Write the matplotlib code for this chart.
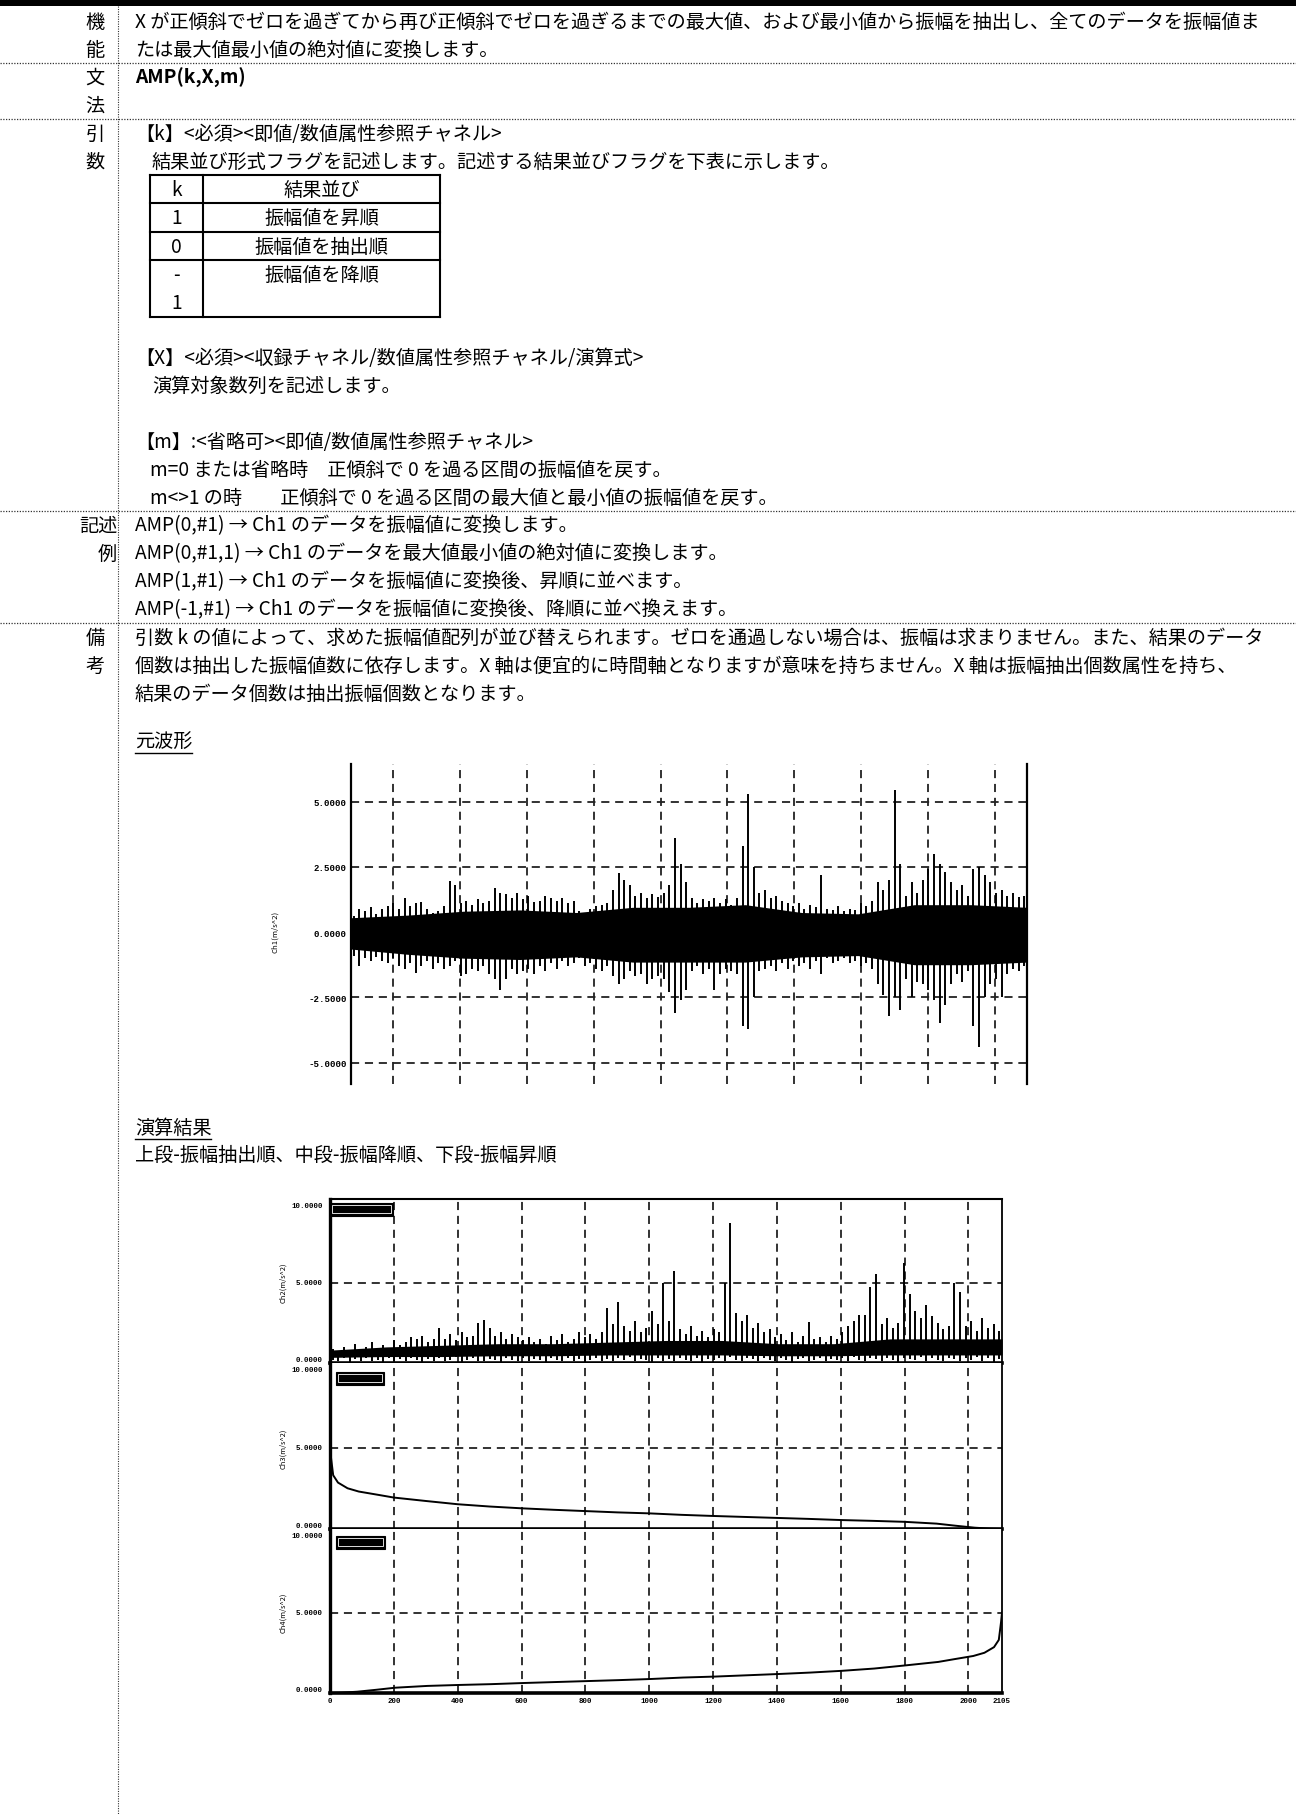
import matplotlib
matplotlib.use("Agg")
import matplotlib.pyplot as plt
from matplotlib.patches import Rectangle
import numpy as np

plt.rcParams['font.family'] = ['Noto Sans CJK JP', 'DejaVu Sans']

# ---------------------- data ---------------------- #
# source waveform (元波形): per-column upper / lower spike values, 120 columns
wave_hi = [0.6, 0.9, 0.8, 0.95, 0.7, 0.9, 1.0, 1.1, 0.9, 1.3,
           1.0, 1.1, 1.15, 0.9, 0.75, 0.8, 1.0, 1.95, 1.8, 1.1,
           1.2, 1.05, 1.25, 1.1, 1.2, 1.7, 1.5, 1.45, 1.3, 1.5,
           1.25, 1.4, 1.15, 1.2, 1.4, 1.3, 1.2, 1.3, 1.1, 1.2,
           0.8, 0.75, 0.9, 1.0, 1.05, 1.1, 1.6, 2.25, 2.0, 1.8,
           1.4, 1.5, 1.3, 1.45, 1.35, 1.5, 1.8, 3.6, 2.6, 1.9,
           1.3, 1.1, 1.25, 1.2, 1.3, 1.1, 1.25, 1.05, 1.3, 3.3,
           5.3, 2.5, 1.5, 1.6, 1.3, 1.4, 1.2, 1.1, 1.0, 1.1,
           0.9, 1.05, 0.95, 2.2, 0.9, 0.85, 1.0, 0.8, 0.9, 0.85,
           1.1, 1.0, 1.2, 1.9, 1.6, 2.0, 5.45, 2.6, 1.4, 1.9,
           1.5, 2.0, 2.4, 3.0, 2.6, 2.3, 1.9, 1.6, 1.8, 1.4,
           2.4, 2.5, 2.2, 1.9, 1.5, 1.6, 1.4, 1.5, 1.35, 1.4]
wave_lo = [-0.9, -1.3, -1.0, -1.1, -0.95, -1.1, -1.2, -1.0, -1.3, -1.4,
           -1.2, -1.56, -1.3, -1.1, -1.4, -1.2, -1.4, -1.3, -1.1, -1.7,
           -1.6, -1.4, -1.5, -1.3, -1.6, -1.8, -2.2, -1.8, -1.4, -1.6,
           -1.5, -1.4, -1.6, -1.3, -1.5, -1.2, -1.4, -1.1, -1.3, -1.2,
           -1.0, -1.3, -1.2, -1.4, -1.5, -1.3, -1.7, -2.0, -1.8, -1.5,
           -1.7, -1.6, -2.0, -1.8, -1.7, -1.8, -2.3, -3.1, -2.6, -2.2,
           -1.5, -1.3, -1.6, -1.4, -2.2, -1.6, -1.4, -1.5, -1.6, -3.6,
           -3.7, -2.5, -1.5, -1.4, -1.3, -1.5, -1.2, -1.4, -1.1, -1.3,
           -1.2, -1.4, -1.1, -1.6, -1.0, -1.2, -1.1, -1.0, -1.2, -1.1,
           -1.3, -1.2, -1.4, -2.0, -2.4, -3.2, -2.5, -3.0, -1.8, -2.5,
           -1.9, -2.0, -2.2, -2.6, -3.5, -2.8, -2.0, -1.6, -1.9, -1.5,
           -3.6, -4.4, -2.5, -2.0, -1.8, -2.5, -1.6, -1.4, -1.5, -1.3]
# solid black core of the waveform, 13 points across
wave_core_hi = [0.55, 0.65, 0.8, 0.85, 0.75, 0.95, 0.95, 1.05, 0.75, 0.7, 1.05, 1.05, 0.95]
wave_core_lo = [-0.65, -0.85, -1.0, -1.05, -0.95, -1.15, -1.15, -1.15, -0.95, -0.9, -1.25, -1.25, -1.15]
wave_yticks = [-5.0, -2.5, 0.0, 2.5, 5.0]

# result, top panel: amplitudes in extraction order, 120 columns
amp_hi = [0.9, 0.7, 1.0, 0.8, 1.2, 0.8, 1.0, 1.3, 0.9, 1.1,
          0.9, 1.4, 1.1, 1.3, 1.6, 1.5, 1.7, 1.3, 1.5, 2.2,
          1.5, 1.8, 1.4, 1.9, 1.6, 1.7, 2.5, 2.7, 2.2, 1.7,
          1.9, 1.5, 1.8, 1.6, 1.4, 1.6, 1.3, 1.5, 1.2, 1.7,
          1.4, 1.8, 1.3, 1.5, 1.9, 1.6, 1.8, 1.5, 1.9, 3.4,
          2.4, 3.8, 2.3, 2.0, 2.6, 1.9, 2.2, 3.2, 2.4, 5.0,
          2.6, 5.7, 2.1, 1.8, 2.3, 1.7, 2.0, 1.6, 2.1, 1.9,
          5.0, 8.7, 3.1, 2.6, 3.0, 2.2, 2.5, 1.9, 2.1, 1.6,
          1.8, 1.4, 1.9, 1.3, 1.7, 2.55, 1.5, 1.6, 1.3, 1.7,
          1.5, 1.9, 2.3, 2.6, 3.0, 3.0, 4.7, 5.5, 2.4, 2.8,
          2.2, 2.5, 6.2, 4.3, 3.2, 2.8, 3.6, 2.9, 2.5, 2.1,
          2.3, 5.0, 4.4, 2.3, 2.6, 2.0, 2.8, 2.2, 2.4, 2.0]
amp_lo = [0.2, 0.1, 0.3, 0.05, 0.25, 0.15, 0.3, 0.1, 0.2, 0.05,
          0.3, 0.15, 0.25, 0.1, 0.3, 0.2, 0.05, 0.25, 0.15, 0.3,
          0.1, 0.2, 0.35, 0.05, 0.2, 0.3, 0.15, 0.1, 0.25, 0.2,
          0.05, 0.3, 0.2, 0.15, 0.3, 0.1, 0.25, 0.2, 0.05, 0.3,
          0.2, 0.15, 0.3, 0.1, 0.25, 0.05, 0.2, 0.3, 0.15, 0.25,
          0.1, 0.3, 0.2, 0.35, 0.1, 0.25, 0.2, 0.05, 0.3, 0.15,
          0.25, 0.1, 0.3, 0.2, 0.15, 0.3, 0.05, 0.25, 0.2, 0.3,
          0.1, 0.35, 0.2, 0.15, 0.3, 0.25, 0.1, 0.3, 0.2, 0.15,
          0.3, 0.2, 0.05, 0.25, 0.3, 0.15, 0.2, 0.3, 0.1, 0.25,
          0.2, 0.3, 0.15, 0.35, 0.2, 0.1, 0.3, 0.25, 0.15, 0.3,
          0.2, 0.05, 0.3, 0.25, 0.2, 0.35, 0.1, 0.3, 0.2, 0.15,
          0.3, 0.25, 0.1, 0.3, 0.2, 0.35, 0.15, 0.3, 0.05, 0.25]
amp_core_hi = [0.8, 1.0, 1.1, 1.2, 1.2, 1.3, 1.4, 1.4, 1.2, 1.2, 1.5, 1.5, 1.5]
amp_core_lo = [0.35, 0.4, 0.4, 0.45, 0.45, 0.5, 0.5, 0.5, 0.45, 0.45, 0.5, 0.5, 0.5]

# sorted amplitudes (descending), read at these sample numbers
n_amp = 2105
sorted_pos = [0, 3, 10, 25, 55, 90, 150, 200, 300, 400, 500, 600, 700, 800, 900,
              1000, 1100, 1200, 1300, 1400, 1500, 1600, 1700, 1800, 1900, 1960,
              2020, 2070, 2105]
sorted_desc = [5.0, 4.4, 3.3, 2.85, 2.5, 2.3, 2.1, 1.93, 1.72, 1.52, 1.38, 1.27,
               1.18, 1.1, 1.02, 0.96, 0.87, 0.8, 0.74, 0.68, 0.62, 0.55, 0.5,
               0.44, 0.33, 0.2, 0.08, 0.02, 0.0]
res_xticks = [0, 200, 400, 600, 800, 1000, 1200, 1400, 1600, 1800, 2000, 2105]
res_yticks = [0.0, 5.0, 10.0]
panel_labels = ['Ch2(m/s^2)', 'Ch3(m/s^2)', 'Ch4(m/s^2)']

# ---------------------- document text ---------------------- #
side_labels = [('機', 22), ('能', 50), ('文', 78), ('法', 106), ('引', 134), ('数', 162),
               ('備', 638), ('考', 666)]
body_lines = [
    (135, 22, 'X が正傾斜でゼロを過ぎてから再び正傾斜でゼロを過ぎるまでの最大値、および最小値から振幅を抽出し、全てのデータを振幅値ま'),
    (135, 50, 'たは最大値最小値の絶対値に変換します。'),
    (135, 134, '【k】<必須><即値/数値属性参照チャネル>'),
    (152, 162, '結果並び形式フラグを記述します。記述する結果並びフラグを下表に示します。'),
    (135, 358, '【X】<必須><収録チャネル/数値属性参照チャネル/演算式>'),
    (152, 386, '演算対象数列を記述します。'),
    (135, 442, '【m】:<省略可><即値/数値属性参照チャネル>'),
    (150, 470, 'm=0 または省略時　正傾斜で 0 を過る区間の振幅値を戻す。'),
    (150, 498, 'm<>1 の時　　正傾斜で 0 を過る区間の最大値と最小値の振幅値を戻す。'),
    (135, 526, 'AMP(0,#1) → Ch1 のデータを振幅値に変換します。'),
    (135, 554, 'AMP(0,#1,1) → Ch1 のデータを最大値最小値の絶対値に変換します。'),
    (135, 582, 'AMP(1,#1) → Ch1 のデータを振幅値に変換後、昇順に並べます。'),
    (135, 610, 'AMP(-1,#1) → Ch1 のデータを振幅値に変換後、降順に並べ換えます。'),
    (135, 638, '引数 k の値によって、求めた振幅値配列が並び替えられます。ゼロを通過しない場合は、振幅は求まりません。また、結果のデータ'),
    (135, 666, '個数は抽出した振幅値数に依存します。X 軸は便宜的に時間軸となりますが意味を持ちません。X 軸は振幅抽出個数属性を持ち、'),
    (135, 694, '結果のデータ個数は抽出振幅個数となります。'),
    (135, 1155, '上段-振幅抽出順、中段-振幅降順、下段-振幅昇順'),
]
table_k = ['k', '1', '0', '-\n1']
table_desc = ['結果並び', '振幅値を昇順', '振幅値を抽出順', '振幅値を降順']

W, H = 1296, 1815
FS = 13.8
DASH = (0, (4.5, 3.2))
fig = plt.figure(figsize=(W / 100, H / 100), dpi=100)


def px_axes(x0, y0, x1, y1):
    return fig.add_axes([x0 / W, 1 - y1 / H, (x1 - x0) / W, (y1 - y0) / H])


tick_font = dict(fontfamily='Liberation Mono', fontweight='bold')

# ---------------------- 元波形 ---------------------- #
ax1 = px_axes(351, 765, 1027, 1085)
t0, t1 = 0.372, 10.48
ax1.set_xlim(t0, t1)
ax1.set_ylim(-5.82, 6.44)
n = len(wave_hi)
tc = t0 + (np.arange(n) + 0.5) * (t1 - t0) / n
ax1.vlines(tc, wave_lo, wave_hi, color='black', lw=1.4, zorder=3)
ax1.fill_between(np.linspace(t0, t1, len(wave_core_hi)), wave_core_lo, wave_core_hi,
                 color='black', lw=0, zorder=3)
for g in range(1, 11):
    ax1.axvline(g, color='#222222', lw=1.3, ls=DASH, zorder=1)
for v in wave_yticks:
    ax1.axhline(v, color='#222222', lw=1.3, ls=DASH, zorder=1)
ax1.set_xticks([])
ax1.set_yticks(wave_yticks)
ax1.set_yticklabels([f'{v:.4f}' for v in wave_yticks], fontsize=6.6, **tick_font)
ax1.tick_params(axis='y', length=0, pad=3)
for s in ['top', 'bottom']:
    ax1.spines[s].set_visible(False)
for s in ['left', 'right']:
    ax1.spines[s].set_linewidth(1.6)

# ---------------------- 演算結果 ---------------------- #
panels = [(1200, 1364), (1364, 1530), (1530, 1694)]
res_axes = []
for k, (ya, yb) in enumerate(panels):
    ax = px_axes(330, ya, 1002, yb)
    ax.set_xlim(0, n_amp)
    ax.set_ylim(0, 10.19)
    for g in res_xticks[1:-1]:
        ax.axvline(g, color='#222222', lw=1.3, ls=DASH, zorder=1)
    ax.axhline(5.0, color='#222222', lw=1.3, ls=DASH, zorder=1)
    ax.set_yticks(res_yticks)
    ax.set_yticklabels([])
    # stacked labels at the panel joins: 0 sits above the line, 10 below it
    for v in res_yticks:
        va = 'bottom' if v == 0 else ('top' if v == 10 else 'center')
        ax.text(-0.011, v, f'{v:.4f}', transform=ax.get_yaxis_transform(),
                ha='right', va=va, fontsize=5.4, **tick_font)
    ax.set_xticks(res_xticks)
    if k < 2:
        ax.set_xticklabels([])
    else:
        ax.set_xticklabels([str(v) for v in res_xticks], fontsize=5.4, **tick_font)
    ax.tick_params(length=0, pad=3)
    ax.spines['left'].set_linewidth(2.4)
    ax.spines['right'].set_linewidth(1.3)
    ax.spines['top'].set_linewidth(1.5 if k == 0 else 0)
    ax.spines['bottom'].set_linewidth(2.6)
    res_axes.append(ax)

m = len(amp_hi)
xc = (np.arange(m) + 0.5) * n_amp / m
res_axes[0].vlines(xc, amp_lo, amp_hi, color='black', lw=1.4, zorder=3)
res_axes[0].fill_between(np.linspace(0, n_amp, len(amp_core_hi)), amp_core_lo, amp_core_hi,
                         color='black', lw=0, zorder=3)
res_axes[1].plot(sorted_pos, sorted_desc, color='black', lw=1.4, zorder=3)
res_axes[2].plot([n_amp - p for p in sorted_pos], sorted_desc, color='black', lw=1.4, zorder=3)

# ---------------------- page (text, rules, table) ---------------------- #
pg = fig.add_axes([0, 0, 1, 1])
pg.set_xlim(0, W)
pg.set_ylim(H, 0)
pg.axis('off')

pg.add_patch(Rectangle((0, 0), W, 7, facecolor='black', lw=0))
pg.plot([118, 118], [7, H], color='#333333', lw=0.8, ls=(0, (1, 1.2)))
for y in [64, 120, 512, 624]:
    pg.plot([0, W], [y, y], color='#333333', lw=0.9, ls=(0, (1, 1.2)))

for s, y in side_labels:
    pg.text(95, y, s, fontsize=FS, ha='center', va='center')
pg.text(117, 526, '記述', fontsize=FS, ha='right', va='center')
pg.text(117, 554, '例', fontsize=FS, ha='right', va='center')

pg.text(135, 78, 'AMP(k,X,m)', fontsize=FS, ha='left', va='center', fontweight='bold')
for x, y, s in body_lines:
    pg.text(x, y, s, fontsize=FS, ha='left', va='center')

for x, y, s in [(135, 742, '元波形'), (135, 1128, '演算結果')]:
    pg.text(x, y, s, fontsize=FS, ha='left', va='center')
    pg.plot([x, x + 19 * len(s)], [y + 12, y + 12], color='black', lw=1.0)

# flag table
tl, tm, tr = 150, 203, 440
rows = [176, 204, 233, 261, 318]
for y in rows:
    pg.plot([tl, tr], [y, y], color='black', lw=1.5)
for x in [tl, tm, tr]:
    pg.plot([x, x], [rows[0], rows[-1]], color='black', lw=1.5)
for i in range(4):
    top = rows[i]
    if i < 3:
        yk = (rows[i] + rows[i + 1]) / 2
        pg.text((tl + tm) / 2, yk, table_k[i], fontsize=FS, ha='center', va='center')
        pg.text((tm + tr) / 2, yk, table_desc[i], fontsize=FS, ha='center', va='center')
    else:
        first, second = table_k[i].split('\n')
        pg.text((tl + tm) / 2, top + 14, first, fontsize=FS, ha='center', va='center')
        pg.text((tl + tm) / 2, top + 42, second, fontsize=FS, ha='center', va='center')
        pg.text((tm + tr) / 2, top + 14, table_desc[i], fontsize=FS, ha='center', va='center')

# axis titles of the plots
pg.text(275, 932, 'Ch1(m/s^2)', fontsize=5.6, rotation=90, ha='center', va='center')
for (ya, yb), lab in zip(panels, panel_labels):
    pg.text(283, yb - 81, lab, fontsize=5.4, rotation=90, ha='center', va='center')

# channel name boxes in the result panels
for x, y, w in [(330, 1204, 63), (336, 1373, 48), (336, 1537, 49)]:
    pg.add_patch(Rectangle((x, y), w, 13, facecolor='black', edgecolor='black', lw=0.8))
    pg.add_patch(Rectangle((x + 2, y + 2), w - 4, 8, fill=False, edgecolor='white', lw=0.6))

fig.savefig('out.png', dpi=100)
